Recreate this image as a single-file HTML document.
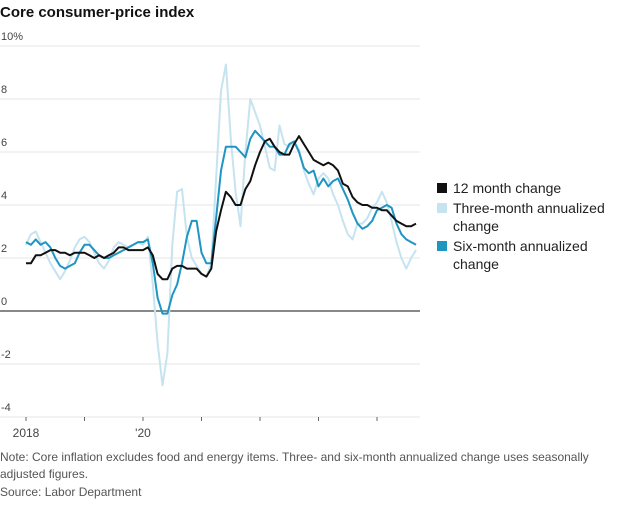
<!DOCTYPE html>
<html><head><meta charset="utf-8"><style>
body{margin:0;background:#fff;font-family:"Liberation Sans",sans-serif;}
svg text{font-family:"Liberation Sans",sans-serif;}
</style></head><body>
<svg width="620" height="500">
<text x="0" y="17" font-size="15" font-weight="bold" fill="#111">Core consumer-price index</text>
<g id="grid"></g>
<g id="series"></g>
<g font-size="14" fill="#222">
<rect x="437" y="183" width="10" height="10" fill="#111"/>
<text x="453" y="193">12 month change</text>
<rect x="437" y="203" width="10" height="10" fill="#c6e3f0"/>
<text x="453" y="213">Three-month annualized</text>
<text x="453" y="231">change</text>
<rect x="437" y="241" width="10" height="10" fill="#1f95c2"/>
<text x="453" y="251">Six-month annualized</text>
<text x="453" y="269">change</text>
</g>
<g font-size="12" fill="#555">
<text x="0" y="461">Note: Core inflation excludes food and energy items. Three- and six-month annualized change uses seasonally</text>
<text x="0" y="478">adjusted figures.</text>
<text x="0" y="496">Source: Labor Department</text>
</g>
</svg>
<script>
const yTicks=[10,8,6,4,2,0,-2,-4];
const yTickLabels=["10%","8","6","4","2","0","-2","-4"];
const xYears=[2018,2019,2020,2021,2022,2023,2024];
const xYearLabels={2018:"2018",2020:"'20"};
const twelveMonth=[1.8,1.8,2.1,2.1,2.2,2.3,2.3,2.2,2.2,2.1,2.2,2.2,2.2,2.1,2.0,2.1,2.0,2.1,2.2,2.4,2.4,2.3,2.3,2.3,2.3,2.4,2.1,1.4,1.2,1.2,1.6,1.7,1.7,1.6,1.6,1.6,1.4,1.3,1.6,3.0,3.8,4.5,4.3,4.0,4.0,4.6,4.9,5.5,6.0,6.4,6.5,6.2,6.0,5.9,5.9,6.3,6.6,6.3,6.0,5.7,5.6,5.5,5.6,5.5,5.3,4.8,4.7,4.3,4.1,4.0,4.0,3.9,3.9,3.8,3.8,3.6,3.4,3.3,3.2,3.2,3.3];
const threeMonth=[2.5,2.9,3.0,2.6,2.2,1.8,1.5,1.2,1.5,1.9,2.4,2.7,2.8,2.6,2.2,1.8,1.6,1.9,2.4,2.6,2.5,2.4,2.5,2.6,2.5,2.8,1.0,-1.2,-2.8,-1.6,2.5,4.5,4.6,2.8,2.0,1.7,1.4,1.3,1.8,5.0,8.3,9.3,6.5,4.5,3.2,6.0,8.0,7.5,7.0,6.2,5.4,5.3,7.0,6.3,6.2,6.4,6.1,5.3,4.8,4.4,5.0,5.2,5.0,4.4,4.0,3.4,2.9,2.7,3.3,3.3,3.5,3.9,4.1,4.5,4.1,3.4,2.6,2.0,1.6,2.0,2.3];
const sixMonth=[2.6,2.5,2.7,2.5,2.6,2.4,2.0,1.7,1.6,1.7,1.8,2.2,2.5,2.5,2.3,2.1,2.0,2.0,2.1,2.2,2.3,2.4,2.5,2.6,2.6,2.7,1.8,0.5,-0.1,-0.1,0.6,1.0,1.8,2.8,3.4,3.4,2.2,1.8,1.8,3.5,5.3,6.2,6.2,6.2,6.0,5.8,6.5,6.8,6.6,6.4,6.2,6.2,5.9,5.9,6.3,6.4,6.0,5.4,5.2,5.3,4.7,5.0,4.7,4.9,5.0,4.6,4.2,3.7,3.3,3.1,3.2,3.4,3.8,3.9,4.0,3.9,3.3,2.9,2.7,2.6,2.5];
const NS="http://www.w3.org/2000/svg";
const xScale=m=>26+m*58.5/12;
const yScale=v=>311-v*26.5;
const grid=document.getElementById('grid');
function mk(tag,attrs,parent){const e=document.createElementNS(NS,tag);for(const k in attrs)e.setAttribute(k,attrs[k]);parent.appendChild(e);return e;}
yTicks.forEach((t,i)=>{
  const l=mk('line',{x1:0,x2:420,y1:yScale(t),y2:yScale(t),stroke:t===0?'#888':'#e6e6e6','stroke-width':t===0?2:1},grid);
  
  
  const tx=mk('text',{x:1,y:yScale(t)-6,'font-size':11,fill:'#444'},grid);
  tx.textContent=yTickLabels[i];
  
  
});
xYears.forEach(y=>{
  const x=xScale((y-2018)*12);
  const t=mk('line',{x1:x,x2:x,y1:417,y2:421,stroke:'#666'},grid);
  
  
  if(xYearLabels[y]){
    const tx=mk('text',{x:x,y:437,'font-size':12,fill:'#444','text-anchor':'middle'},grid);
    tx.textContent=xYearLabels[y];
    
    
  }
});
const sg=document.getElementById('series');
function line(data,color,w,name){
  const d=data.map((v,i)=>(i?'L':'M')+xScale(i).toFixed(1)+','+yScale(v).toFixed(1)).join('');
  const p=mk('path',{d:d,fill:'none',stroke:color,'stroke-width':w,'stroke-linejoin':'round'},sg);
  
  
}
line(threeMonth,'#c6e3f0',2,'three-month-line');
line(sixMonth,'#1f95c2',2,'six-month-line');
line(twelveMonth,'#111',2,'twelve-month-line');
</script>
</body></html>
